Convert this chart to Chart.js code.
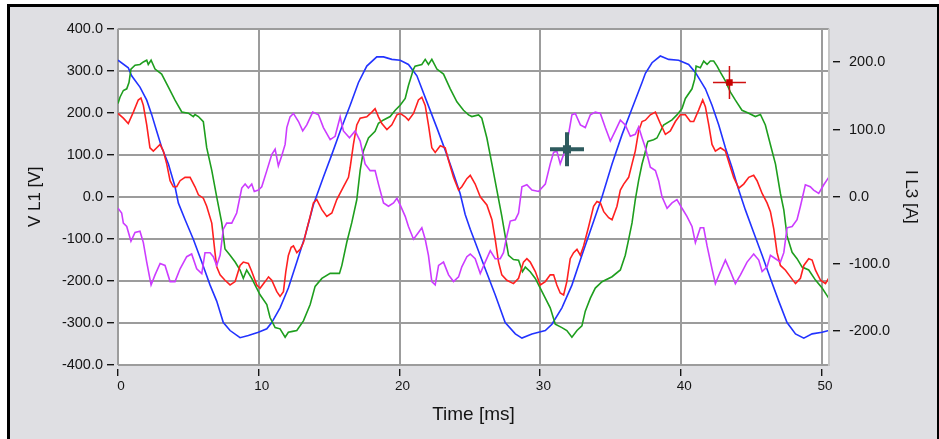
<!DOCTYPE html>
<html>
<head>
<meta charset="utf-8">
<script src="https://cdn.jsdelivr.net/npm/chart.js@4.4.1/dist/chart.umd.min.js"></script>
<style>
  html, body { margin: 0; padding: 0; background: #ffffff; }
  #frame {
    position: absolute; left: 7px; top: 4px; width: 927px; height: 440px;
    border-left: 3px solid #000; border-top: 3px solid #000; border-right: 3px solid #000;
    background: #dfdfe3;
  }
  #wrap { position: absolute; left: 0; top: 0; width: 939px; height: 439px; }
</style>
</head>
<body>
<div id="frame"></div>
<div id="wrap"><canvas id="c" width="939" height="439"></canvas></div>
<script>
// Time axis ticks [ms] and value axis ticks
const timeTicks = [0, 10, 20, 30, 40, 50];
const voltTicks = [-400, -300, -200, -100, 0, 100, 200, 300, 400];
const ampTicks = [-200, -100, 0, 100, 200];

// Voltage L1 [V] as [time ms, value]
const vL1 = [[0,325],[0.73,307],[0.97,288],[1.56,261],[2.04,230],[2.4,195],[2.75,156],[3.1,118],[3.58,78],[4.05,24],[4.29,-15],[4.76,-54],[5.35,-101],[5.95,-155],[6.54,-210],[7.01,-248],[7.48,-299],[7.96,-318],[8.67,-335],[9.26,-330],[9.97,-322],[10.57,-314],[10.92,-299],[11.51,-264],[12.1,-217],[12.7,-155],[13.29,-93],[13.88,-19],[14.59,47],[15.19,101],[15.78,156],[16.49,218],[17.08,272],[17.67,311],[18.38,333],[18.86,333],[19.45,327],[20.04,325],[20.63,315],[21.23,288],[21.94,226],[22.65,164],[23.35,101],[23.83,55],[24.3,8],[24.66,-42],[25.02,-77],[25.37,-108],[26.08,-171],[26.79,-233],[27.5,-299],[28.22,-326],[28.69,-336],[29.4,-326],[30.35,-318],[30.82,-303],[31.53,-264],[32.24,-210],[32.95,-139],[33.66,-70],[34.38,0],[35.09,78],[35.8,148],[36.51,210],[37.22,272],[37.46,294],[37.93,319],[38.52,335],[39.11,327],[39.82,325],[40.53,315],[41.01,296],[41.72,257],[42.19,218],[42.67,171],[43.14,117],[43.61,70],[44.09,16],[44.56,-31],[45.15,-85],[45.75,-139],[46.34,-194],[46.93,-248],[47.52,-299],[48.12,-326],[48.71,-336],[49.3,-326],[50.01,-322],[50.48,-318]];

// Voltage L2 [V]
const vL2 = [[0,222],[0.14,237],[0.38,253],[0.62,257],[0.78,272],[0.92,304],[1.21,313],[1.56,315],[1.8,321],[2.04,325],[2.15,315],[2.35,325],[2.63,304],[3.1,292],[3.58,261],[4.05,230],[4.53,202],[5.0,199],[5.35,191],[5.47,196],[5.71,191],[6.06,179],[6.3,117],[6.66,63],[7.01,0],[7.37,-62],[7.6,-124],[7.96,-139],[8.32,-155],[8.67,-174],[8.9,-194],[9.14,-174],[9.5,-194],[9.74,-210],[10.09,-233],[10.57,-256],[10.8,-287],[11.16,-311],[11.51,-314],[11.87,-334],[12.1,-322],[12.4,-320],[12.7,-318],[13.17,-295],[13.65,-256],[14.0,-213],[14.48,-194],[15.07,-182],[15.73,-182],[15.9,-163],[16.25,-108],[16.6,-62],[16.96,-7],[17.2,63],[17.43,109],[17.79,140],[18.26,156],[18.5,175],[18.86,183],[19.33,191],[19.69,206],[20.04,218],[20.4,234],[20.63,265],[20.99,304],[21.1,311],[21.58,315],[21.82,327],[22.05,315],[22.29,327],[22.65,304],[23.12,292],[23.6,257],[24.07,226],[24.54,206],[24.9,195],[25.13,191],[25.61,195],[25.84,187],[26.2,140],[26.56,78],[26.91,16],[27.26,-46],[27.5,-93],[27.74,-139],[28.09,-149],[28.45,-151],[28.73,-178],[28.93,-167],[29.28,-178],[29.64,-194],[29.99,-217],[30.35,-241],[30.7,-264],[31.06,-303],[31.53,-311],[31.88,-318],[32.24,-334],[32.6,-318],[32.95,-307],[33.19,-272],[33.55,-241],[33.9,-217],[34.38,-202],[35.09,-190],[35.68,-174],[36.03,-139],[36.27,-101],[36.51,-62],[36.74,-7],[36.98,39],[37.22,78],[37.4,100],[37.57,125],[37.64,132],[38.04,136],[38.28,140],[38.75,171],[39.35,183],[39.7,195],[40.06,210],[40.3,234],[40.77,257],[40.96,280],[41.06,311],[41.36,307],[41.6,323],[41.84,315],[42.07,323],[42.31,323],[42.55,311],[42.79,296],[43.14,276],[43.5,249],[43.85,230],[44.32,206],[44.8,199],[45.27,191],[45.63,196],[45.98,171],[46.34,124],[46.7,78],[47.05,8],[47.29,-31],[47.52,-93],[47.88,-132],[48.23,-147],[48.59,-167],[49.06,-174],[49.54,-198],[50.01,-217],[50.48,-241]];

// Current L1 [A]
const iL1 = [[0,124],[0.38,117],[0.73,109],[1.09,126],[1.44,144],[1.63,147],[1.8,136],[2.04,107],[2.27,73],[2.51,68],[2.75,73],[2.99,78],[3.22,68],[3.46,49],[3.7,24],[3.93,15],[4.17,15],[4.41,24],[4.76,29],[5.12,29],[5.47,15],[5.71,3],[6.06,-2],[6.3,-14],[6.66,-39],[6.89,-83],[7.01,-104],[7.25,-116],[7.6,-124],[7.96,-131],[8.32,-126],[8.67,-102],[8.9,-97],[9.26,-99],[9.5,-111],[9.86,-131],[10.09,-136],[10.45,-126],[10.69,-119],[10.92,-124],[11.28,-141],[11.51,-148],[11.75,-141],[11.92,-111],[12.1,-87],[12.3,-75],[12.46,-73],[12.7,-83],[12.94,-78],[13.17,-68],[13.41,-48],[13.65,-29],[13.88,-9],[14.12,-4],[14.48,-19],[14.83,-29],[15.19,-24],[15.54,-4],[16.01,15],[16.37,29],[16.49,44],[16.72,78],[16.96,107],[17.2,117],[17.67,119],[18.03,126],[18.26,131],[18.5,119],[18.74,109],[19.1,100],[19.45,107],[19.81,122],[20.04,124],[20.4,119],[20.63,114],[20.99,124],[21.34,144],[21.58,148],[21.82,136],[22.05,107],[22.29,73],[22.53,66],[22.89,76],[23.24,73],[23.48,54],[23.83,29],[24.19,10],[24.42,15],[24.78,27],[25.02,32],[25.37,19],[25.73,0],[26.2,-12],[26.56,-34],[26.79,-63],[27.03,-97],[27.26,-116],[27.62,-124],[28.09,-129],[28.45,-121],[28.8,-97],[29.04,-92],[29.28,-97],[29.64,-111],[29.99,-131],[30.35,-126],[30.7,-116],[30.94,-116],[31.17,-131],[31.41,-143],[31.65,-146],[31.88,-126],[32.12,-92],[32.36,-83],[32.6,-78],[32.84,-87],[33.07,-73],[33.43,-44],[33.78,-14],[34.02,-7],[34.26,-9],[34.5,-22],[34.85,-31],[35.09,-34],[35.44,-14],[35.68,10],[35.92,19],[36.27,29],[36.51,49],[36.74,68],[36.98,98],[37.22,112],[37.46,114],[37.81,122],[38.17,126],[38.52,109],[38.88,93],[39.23,98],[39.59,112],[39.94,122],[40.3,122],[40.65,112],[40.89,112],[41.24,129],[41.53,144],[41.72,134],[41.96,107],[42.19,78],[42.43,68],[42.79,73],[43.14,68],[43.5,44],[43.73,29],[44.09,13],[44.44,19],[44.8,29],[45.15,32],[45.39,24],[45.75,5],[46.1,-9],[46.34,-22],[46.58,-48],[46.81,-83],[47.05,-102],[47.41,-109],[47.76,-119],[48.12,-129],[48.47,-121],[48.71,-102],[49.06,-92],[49.3,-94],[49.54,-109],[49.9,-124],[50.25,-129],[50.48,-121]];

// Current L3 [A]
const iL3 = [[0,-17],[0.26,-24],[0.38,-39],[0.62,-44],[0.92,-66],[1.21,-53],[1.56,-51],[1.8,-68],[2.04,-97],[2.35,-131],[2.63,-116],[2.99,-99],[3.34,-102],[3.7,-126],[4.05,-126],[4.41,-107],[4.88,-89],[5.23,-85],[5.59,-107],[5.95,-114],[6.18,-83],[6.54,-83],[6.77,-89],[7.01,-102],[7.25,-87],[7.48,-48],[7.72,-39],[8.08,-39],[8.43,-24],[8.79,13],[9.03,19],[9.26,13],[9.5,19],[9.68,8],[9.97,10],[10.21,15],[10.57,39],[10.92,63],[11.16,71],[11.39,46],[11.63,61],[11.87,78],[11.99,103],[12.22,119],[12.46,124],[12.82,112],[13.12,98],[13.41,107],[13.83,126],[14.24,122],[14.59,103],[15.07,85],[15.42,90],[15.78,119],[16.01,98],[16.44,88],[16.84,98],[17.2,83],[17.55,49],[17.91,39],[18.26,39],[18.5,19],[18.86,-9],[19.21,-14],[19.57,-9],[19.81,-2],[20.04,-12],[20.4,-29],[20.63,-44],[20.99,-63],[21.34,-53],[21.58,-46],[21.82,-63],[22.05,-87],[22.29,-126],[22.53,-131],[22.77,-102],[23.12,-97],[23.48,-116],[23.83,-126],[24.19,-119],[24.42,-104],[24.78,-89],[25.02,-85],[25.37,-92],[25.73,-114],[26.08,-97],[26.44,-80],[26.79,-92],[27.15,-92],[27.38,-83],[27.62,-58],[27.86,-36],[28.22,-34],[28.45,-24],[28.69,15],[29.04,18],[29.4,10],[29.87,8],[30.35,19],[30.7,49],[30.94,66],[31.17,68],[31.41,49],[31.65,63],[32.0,93],[32.24,122],[32.48,124],[32.84,107],[33.19,103],[33.55,122],[33.9,126],[34.26,124],[34.61,103],[34.97,83],[35.32,98],[35.68,114],[36.03,107],[36.39,90],[36.74,93],[36.98,104],[37.22,88],[37.46,73],[37.81,44],[38.17,39],[38.4,24],[38.64,0],[39.0,-17],[39.35,-9],[39.7,-4],[40.06,-17],[40.41,-29],[40.77,-44],[41.01,-68],[41.36,-46],[41.6,-46],[41.84,-73],[42.19,-107],[42.43,-129],[42.79,-111],[43.14,-94],[43.5,-111],[43.85,-129],[44.21,-116],[44.68,-97],[45.15,-85],[45.51,-94],[45.75,-111],[46.1,-104],[46.34,-87],[46.7,-92],[47.05,-97],[47.29,-83],[47.52,-46],[47.88,-44],[48.23,-34],[48.47,-14],[48.82,18],[49.17,15],[49.41,10],[49.77,5],[50.13,18],[50.48,29]];

// Cursor positions [time ms, V]
const cursorA = [31.89, 113];
const cursorB = [43.43, 272];

const pts = arr => arr.map(([x, y]) => ({ x, y }));

const FAMILY = 'Liberation Sans, Arial, sans-serif';
const TICK_FONT = { family: FAMILY, size: 14.5 };
const INK = '#141414';

// White plot area, light right edge, and outside tick dashes
const plotDecor = {
  id: 'plotDecor',
  beforeDraw(chart) {
    const { ctx, chartArea: a } = chart;
    ctx.save();
    ctx.fillStyle = '#ffffff';
    ctx.fillRect(a.left, a.top, a.right - a.left, a.bottom - a.top);
    ctx.restore();
  },
  afterDraw(chart) {
    const { ctx, chartArea: a } = chart;
    const { x, y, y1 } = chart.scales;
    ctx.save();
    ctx.fillStyle = '#c6c6c6';
    ctx.fillRect(a.right - 1, a.top, 2, a.bottom - a.top + 1);
    ctx.fillStyle = INK;
    y.ticks.forEach(t => {
      const py = Math.round(y.getPixelForValue(t.value));
      ctx.fillRect(a.left - 11, py - 1, 7, 1.4);
    });
    y1.ticks.forEach(t => {
      const py = Math.round(y1.getPixelForValue(t.value));
      ctx.fillRect(a.right + 4, py - 1, 7, 1.4);
    });
    x.ticks.forEach(t => {
      const px = Math.round(x.getPixelForValue(t.value));
      ctx.fillRect(px - 1, a.bottom + 4, 1.4, 7);
    });
    ctx.restore();
  }
};

const line = (label, data, color, axis) => ({
  label, data: pts(data), yAxisID: axis,
  borderColor: color, borderWidth: 1.6, pointRadius: 0, tension: 0, fill: false
});

new Chart(document.getElementById('c'), {
  type: 'line',
  data: {
    datasets: [
      { type: 'scatter', data: pts([cursorA]), yAxisID: 'y', pointStyle: 'rect', pointRadius: 5.7,
        backgroundColor: '#2e5b5e', borderColor: '#2e5b5e', borderWidth: 0 },
      { type: 'scatter', data: pts([cursorA]), yAxisID: 'y', pointStyle: 'cross', pointRadius: 17,
        borderColor: '#2e5b5e', borderWidth: 4 },
      { type: 'scatter', data: pts([cursorB]), yAxisID: 'y', pointStyle: 'rect', pointRadius: 4.6,
        backgroundColor: '#c80000', borderColor: '#c80000', borderWidth: 0 },
      { type: 'scatter', data: pts([cursorB]), yAxisID: 'y', pointStyle: 'cross', pointRadius: 16.5,
        borderColor: '#d01010', borderWidth: 1.5 },
      line('I L3', iL3, '#cc3cff', 'y1'),
      line('I L1', iL1, '#ff2020', 'y1'),
      line('V L2', vL2, '#1e9e1e', 'y'),
      line('V L1', vL1, '#2233ff', 'y')
    ]
  },
  options: {
    responsive: false,
    animation: false,
    events: [],
    layout: { padding: { top: 22, left: 0, right: 0, bottom: 0 } },
    plugins: { legend: { display: false }, tooltip: { enabled: false } },
    scales: {
      x: {
        type: 'linear', min: 0, max: 50.5,
        afterBuildTicks: s => { s.ticks = timeTicks.map(v => ({ value: v })); },
        afterFit: s => { s.height = 74; },
        border: { display: false },
        grid: { color: '#9c9c9c', lineWidth: 2, drawTicks: false },
        ticks: { font: { family: FAMILY, size: 13.5 }, color: INK, padding: 13, labelOffset: 3, maxRotation: 0,
          callback: v => String(v) },
        title: { display: true, text: 'Time [ms]', color: INK,
          font: { family: FAMILY, size: 19 }, padding: { top: 0, bottom: 13 } }
      },
      y: {
        position: 'left', min: -400, max: 400,
        afterBuildTicks: s => { s.ticks = voltTicks.map(v => ({ value: v })); },
        afterFit: s => { s.width = 118; },
        border: { display: false },
        grid: { color: '#9c9c9c', lineWidth: 2, drawTicks: false },
        ticks: { font: TICK_FONT, color: INK, padding: 15, callback: v => v.toFixed(1) },
        title: { display: true, text: 'V L1 [V]', color: INK,
          font: { family: FAMILY, size: 17 }, padding: { top: 24.8, bottom: 0 } }
      },
      y1: {
        position: 'right', min: -250, max: 250,
        afterBuildTicks: s => { s.ticks = ampTicks.map(v => ({ value: v })); },
        afterFit: s => { s.width = 110; },
        border: { display: false },
        grid: { display: false, drawTicks: false },
        ticks: { font: TICK_FONT, color: INK, padding: 20, callback: v => v.toFixed(1) },
        title: { display: true, text: 'I L3 [A]', color: INK,
          font: { family: FAMILY, size: 17 }, padding: { top: 17.8, bottom: 0 } }
      }
    }
  },
  plugins: [plotDecor]
});
</script>
</body>
</html>
